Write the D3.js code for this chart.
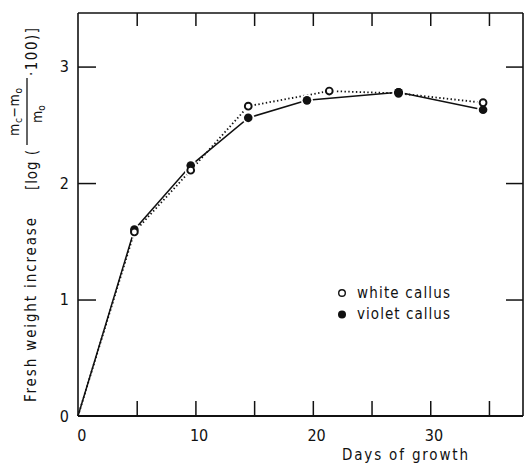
<!DOCTYPE html>
<meta charset="utf-8">
<head>
    <style>
        body {margin: 0; background: #fff;}
        svg {display: block; font-family: "DejaVu Sans Condensed", "DejaVu Sans", sans-serif;}
        text {fill: #111;}
        .axis path {display: none;}
        .axis line {stroke: #111; stroke-width: 1.5;}
        .axis text {font-size: 16px; font-family: "DejaVu Sans Condensed", "DejaVu Sans", sans-serif; fill: #111;}
    </style>
    <script src="https://d3js.org/d3.v7.min.js"></script>
</head>
<body>
<script>

    // values
    var whiteDays  = [0, 4.8, 9.6, 14.5, 21.4, 27.3, 34.5],
        whiteVals  = [0, 1.58, 2.11, 2.66, 2.79, 2.77, 2.69],
        violetDays = [0, 4.8, 9.6, 14.5, 19.5, 27.3, 34.5],
        violetVals = [0, 1.60, 2.15, 2.56, 2.71, 2.78, 2.63];

    var xTicks = [5, 10, 15, 20, 25, 30, 35],
        xLabels = [0, 10, 20, 30],
        yTicks = [0, 1, 2, 3];

    var width = 525, height = 464;
    var plotLeft = 78, plotRight = 523, plotTop = 13, plotBottom = 416;

    var x = d3.scaleLinear().domain([0, 37.9]).range([plotLeft, plotRight]);
    var y = d3.scaleLinear().domain([0, 3.46]).range([plotBottom, plotTop]);

    var white = whiteDays.map(function(d, i) {return {x: d, y: whiteVals[i]}});
    var violet = violetDays.map(function(d, i) {return {x: d, y: violetVals[i]}});

    var svg = d3.select("body").append("svg")
        .attr("width", width)
        .attr("height", height);

    // frame
    svg.append("line").attr("x1", plotLeft).attr("x2", plotLeft).attr("y1", plotTop).attr("y2", plotBottom)
        .attr("stroke", "#111").attr("stroke-width", 1.6);
    svg.append("line").attr("x1", plotLeft).attr("x2", plotRight).attr("y1", plotBottom).attr("y2", plotBottom)
        .attr("stroke", "#111").attr("stroke-width", 2.2);
    svg.append("line").attr("x1", plotLeft).attr("x2", plotRight).attr("y1", plotTop).attr("y2", plotTop)
        .attr("stroke", "#111").attr("stroke-width", 1.6);
    svg.append("line").attr("x1", plotRight).attr("x2", plotRight).attr("y1", plotTop).attr("y2", plotBottom)
        .attr("stroke", "#111").attr("stroke-width", 1.6);

    // ticks, pointing inward
    svg.append("g").attr("class", "axis")
        .attr("transform", "translate(0," + plotBottom + ")")
        .call(d3.axisBottom(x).tickValues(xTicks).tickSize(-15).tickFormat(""));
    svg.append("g").attr("class", "axis")
        .attr("transform", "translate(0," + plotTop + ")")
        .call(d3.axisTop(x).tickValues(xTicks).tickSize(-13).tickFormat(""));
    svg.append("g").attr("class", "axis")
        .attr("transform", "translate(" + plotLeft + ",0)")
        .call(d3.axisLeft(y).tickValues(yTicks).tickSize(-18).tickPadding(9).tickFormat(d3.format("d")))
        .selectAll("line").filter(function(d) {return d == 0}).remove();
    svg.append("g").attr("class", "axis")
        .attr("transform", "translate(" + plotRight + ",0)")
        .call(d3.axisRight(y).tickValues([1, 2, 3]).tickSize(-17).tickFormat(""));

    // bottom labels 0,10,20,30
    svg.append("g").attr("class", "axis")
        .attr("transform", "translate(0," + plotBottom + ")")
        .call(d3.axisBottom(x).tickValues(xLabels).tickSize(0).tickPadding(14).tickFormat(d3.format("d")))
        .selectAll("text").attr("dx", "0.2em");

    svg.append("text")
        .attr("x", 342).attr("y", 460)
        .attr("textLength", 126).attr("lengthAdjust", "spacing")
        .style("font-size", "15px")
        .text("Days of growth");

    // y title, rotated
    var yt = svg.append("g").attr("transform", "translate(36,0) rotate(-90)");
    yt.append("text")
        .attr("x", -402).attr("y", 0)
        .attr("textLength", 184).attr("lengthAdjust", "spacing")
        .style("font-size", "15px")
        .text("Fresh weight increase");
    yt.append("text")
        .attr("x", -190).attr("y", 1)
        .attr("textLength", 40).attr("lengthAdjust", "spacing")
        .style("font-size", "15px")
        .text("[log (");
    var num = yt.append("text")
        .attr("x", -136).attr("y", -17)
        .attr("textLength", 48).attr("lengthAdjust", "spacing")
        .style("font-size", "14px");
    num.append("tspan").text("m");
    num.append("tspan").attr("dy", 3).style("font-size", "10px").text("c");
    num.append("tspan").attr("dy", -3).text("\u2212m");
    num.append("tspan").attr("dy", 3).style("font-size", "10px").text("o");
    yt.append("line")
        .attr("x1", -145).attr("x2", -78).attr("y1", -9).attr("y2", -9)
        .attr("stroke", "#111").attr("stroke-width", 1.3);
    var den = yt.append("text")
        .attr("x", -123).attr("y", 6)
        .style("font-size", "14px");
    den.append("tspan").text("m");
    den.append("tspan").attr("dy", 3).style("font-size", "10px").text("o");
    yt.append("text")
        .attr("x", -76).attr("y", 1)
        .attr("textLength", 48).attr("lengthAdjust", "spacing")
        .style("font-size", "15px")
        .text("\u00b7100)]");

    // series lines
    var line = d3.line().x(function(d) {return x(d.x)}).y(function(d) {return y(d.y)});

    svg.append("path").datum(white)
        .attr("d", line)
        .attr("fill", "none").attr("stroke", "#111")
        .attr("stroke-width", 1.8).attr("stroke-dasharray", "1.4,2.4");
    svg.append("path").datum(violet)
        .attr("d", line)
        .attr("fill", "none").attr("stroke", "#111")
        .attr("stroke-width", 1.5);

    // markers: small white gap round each, then filled, then open on top
    var pts = violet.slice(1).concat(white.slice(1));
    svg.append("g").selectAll("circle").data(pts)
      .enter().append("circle")
        .attr("cx", function(d) {return x(d.x)})
        .attr("cy", function(d) {return y(d.y)})
        .attr("r", 6).attr("fill", "#fff");

    function filled(g, data) {
        g.selectAll("circle").data(data)
          .enter().append("circle")
            .attr("cx", function(d) {return x(d.x)})
            .attr("cy", function(d) {return y(d.y)})
            .attr("r", 4.3).attr("fill", "#111");
    }
    filled(svg.append("g"), violet.slice(1));
    svg.append("g").selectAll("circle").data(white.slice(1))
      .enter().append("circle")
        .attr("cx", function(d) {return x(d.x)})
        .attr("cy", function(d) {return y(d.y)})
        .attr("r", 3.4).attr("fill", "#fff")
        .attr("stroke", "#111").attr("stroke-width", 1.9);
    // at day ~27 the filled dot hides the open one
    filled(svg.append("g"), violet.filter(function(d) {return d.x > 25 && d.x < 30}));

    // legend
    var legend = svg.append("g");
    legend.append("circle").attr("cx", 342).attr("cy", 293).attr("r", 3.3)
        .attr("fill", "#fff").attr("stroke", "#111").attr("stroke-width", 1.4);
    legend.append("circle").attr("cx", 342).attr("cy", 314.5).attr("r", 4)
        .attr("fill", "#111");
    legend.append("text").attr("x", 357).attr("y", 298)
        .attr("textLength", 93).attr("lengthAdjust", "spacing")
        .style("font-size", "15px").text("white callus");
    legend.append("text").attr("x", 357).attr("y", 319)
        .attr("textLength", 93).attr("lengthAdjust", "spacing")
        .style("font-size", "15px").text("violet callus");

</script>
</body>
